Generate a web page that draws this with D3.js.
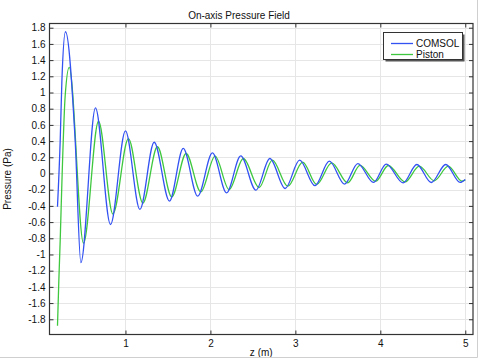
<!DOCTYPE html>
<html>
<head>
<meta charset="utf-8">
<script src="https://cdn.jsdelivr.net/npm/d3@7"></script>
<style>
  html, body { margin: 0; padding: 0; background: #fff; }
  svg { display: block; font-family: "Liberation Sans", Arial, sans-serif; }
</style>
</head>
<body>
<svg id="chart" width="484" height="360"></svg>
<script>
// ---- data ----
const comsolZ = [0.200, 0.232, 0.252, 0.294, 0.408, 0.475, 0.647, 0.824, 1.000, 1.170, 1.338, 1.518, 1.680, 1.850, 2.024, 2.190, 2.357, 2.535, 2.700, 2.880, 3.050, 3.230, 3.400, 3.580, 3.735, 3.920, 4.070, 4.268, 4.430, 4.600, 4.770, 4.940, 5.000];
const comsolP = [-0.41, 0.41, 1.15, 1.75, 0.41, -1.10, 0.81, -0.63, 0.525, -0.444, 0.386, -0.34, 0.31, -0.28, 0.254, -0.24, 0.217, -0.206, 0.185, -0.185, 0.164, -0.15, 0.152, -0.132, 0.123, -0.11, 0.115, -0.116, 0.111, -0.111, 0.111, -0.11, -0.074];
const pistonZ = [0.200, 0.215, 0.232, 0.255, 0.290, 0.338, 0.506, 0.683, 0.852, 1.035, 1.205, 1.376, 1.545, 1.714, 1.887, 2.055, 2.220, 2.388, 2.573, 2.729, 2.911, 3.087, 3.250, 3.428, 3.616, 3.761, 3.946, 4.094, 4.291, 4.459, 4.635, 4.800, 4.960, 5.000];
const pistonP = [-1.88, -1.35, -0.82, 0.0, 0.95, 1.31, -0.86, 0.645, -0.50, 0.43, -0.365, 0.33, -0.29, 0.247, -0.227, 0.214, -0.198, 0.185, -0.173, 0.164, -0.157, 0.14, -0.136, 0.131, -0.116, 0.10, -0.095, 0.099, -0.104, 0.09, -0.09, 0.09, -0.095, -0.08];

const xTicks = [1, 2, 3, 4, 5];
const yTicks = [-1.8, -1.6, -1.4, -1.2, -1, -0.8, -0.6, -0.4, -0.2, 0, 0.2, 0.4, 0.6, 0.8, 1, 1.2, 1.4, 1.6, 1.8];
const seriesNames = ["COMSOL", "Piston"];
const seriesColors = ["#3352f2", "#3fc83f"];
const titleText = "On-axis Pressure Field";
const xLabel = "z (m)";
const yLabel = "Pressure (Pa)";

// ---- layout ----
const L = 49.5, R = 473, T = 23.5, B = 334.5;
const svg = d3.select("#chart");
svg.append("rect").attr("width", 484).attr("height", 360).attr("fill", "#fff");

const x = d3.scaleLinear().domain([0.1059, 5.091]).range([L, R]);
const y = d3.scaleLinear().domain([-1.988, 1.852]).range([B, T]);

const fmt = v => d3.format("~g")(+v.toFixed(2)).replace("\u2212", "-");

// grid
const grid = svg.append("g").attr("stroke", "#e6e6e6").attr("stroke-width", 1);
grid.selectAll("line.gx").data(xTicks).join("line")
  .attr("x1", d => Math.round(x(d)) + 0.5).attr("x2", d => Math.round(x(d)) + 0.5)
  .attr("y1", T).attr("y2", B);
grid.selectAll("line.gy").data(yTicks).join("line")
  .attr("y1", d => Math.round(y(d)) + 0.5).attr("y2", d => Math.round(y(d)) + 0.5)
  .attr("x1", L).attr("x2", R);

// curves
svg.append("clipPath").attr("id", "clip").append("rect")
  .attr("x", L).attr("y", T).attr("width", R - L).attr("height", B - T);
const line = d3.line().x(d => x(d[0])).y(d => y(d[1])).curve(d3.curveMonotoneX);
const series = [d3.zip(comsolZ, comsolP), d3.zip(pistonZ, pistonP)];
svg.append("g").attr("clip-path", "url(#clip)")
  .selectAll("path").data([1, 0]).join("path")
  .attr("d", i => line(series[i]))
  .attr("fill", "none")
  .attr("stroke", i => seriesColors[i])
  .attr("stroke-width", 1.3);

// axes (ticks inward on all sides)
const tickLen = 4;
const axB = svg.append("g").attr("transform", `translate(0,${B})`)
  .call(d3.axisBottom(x).tickValues(xTicks).tickSizeInner(-tickLen).tickSizeOuter(0).tickPadding(5).tickFormat(fmt));
const axT = svg.append("g").attr("transform", `translate(0,${T})`)
  .call(d3.axisTop(x).tickValues(xTicks).tickSizeInner(-tickLen).tickSizeOuter(0).tickFormat(""));
const axL = svg.append("g").attr("transform", `translate(${L},0)`)
  .call(d3.axisLeft(y).tickValues(yTicks).tickSizeInner(-tickLen).tickSizeOuter(0).tickPadding(4).tickFormat(fmt));
const axR = svg.append("g").attr("transform", `translate(${R},0)`)
  .call(d3.axisRight(y).tickValues(yTicks).tickSizeInner(-tickLen).tickSizeOuter(0).tickFormat(""));
[axB, axT, axL, axR].forEach(a => {
  a.select(".domain").remove();
  a.selectAll("line").attr("stroke", "#333");
  a.selectAll("text").attr("fill", "#111").style("font-size", "10px").style("font-family", "'Liberation Sans', Arial, sans-serif");
});
// frame
svg.append("rect").attr("x", L).attr("y", T).attr("width", R - L).attr("height", B - T)
  .attr("fill", "none").attr("stroke", "#333").attr("stroke-width", 1.2);

// title & labels
svg.append("text").attr("x", 239).attr("y", 19).attr("text-anchor", "middle")
  .style("font-size", "10px").attr("fill", "#111").text(titleText);
svg.append("text").attr("x", (L + R) / 2).attr("y", 356).attr("text-anchor", "middle")
  .style("font-size", "10px").attr("fill", "#111").text(xLabel);
svg.append("text").attr("transform", `translate(11,${(T + B) / 2}) rotate(-90)`)
  .attr("text-anchor", "middle").style("font-size", "10px").attr("fill", "#111").text(yLabel);

// legend
const lg = svg.append("g");
lg.append("rect").attr("x", 385.5).attr("y", 34.5).attr("width", 79).attr("height", 27).attr("fill", "#555");
lg.append("rect").attr("x", 383.5).attr("y", 32.5).attr("width", 79).attr("height", 27)
  .attr("fill", "#fff").attr("stroke", "#333").attr("stroke-width", 1);
seriesNames.forEach((n, i) => {
  const yy = 43.5 + i * 11;
  lg.append("line").attr("x1", 391).attr("x2", 413).attr("y1", yy).attr("y2", yy)
    .attr("stroke", seriesColors[i]).attr("stroke-width", 1.3);
  lg.append("text").attr("x", 416).attr("y", yy + 3.5).style("font-size", "10px").attr("fill", "#111").text(n);
});

// outer image border (right & bottom)
svg.append("line").attr("x1", 477.5).attr("x2", 477.5).attr("y1", 0).attr("y2", 357.5).attr("stroke", "#cfcfcf");
svg.append("line").attr("x1", 0).attr("x2", 477.5).attr("y1", 357.5).attr("y2", 357.5).attr("stroke", "#cfcfcf");
</script>
</body>
</html>
